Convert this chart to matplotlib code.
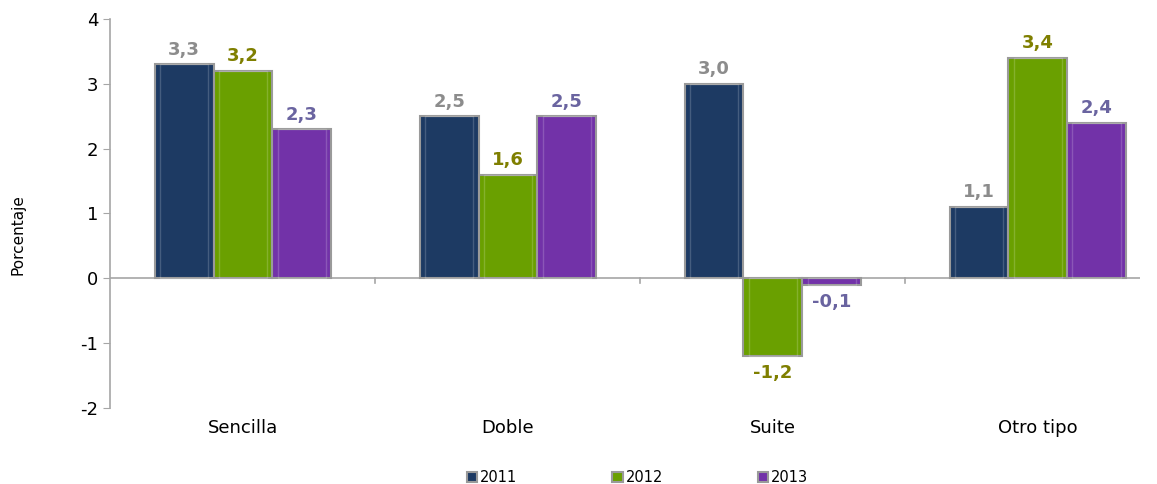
import matplotlib
matplotlib.use("Agg")
import matplotlib.pyplot as plt
import numpy as np

categories = ["Sencilla", "Doble", "Suite", "Otro tipo"]
years = ["2011", "2012", "2013"]
v2011 = [3.3, 2.5, 3.0, 1.1]
v2012 = [3.2, 1.6, -1.2, 3.4]
v2013 = [2.3, 2.5, -0.1, 2.4]
series = [v2011, v2012, v2013]
bar_colors = ["#1d3a63", "#6aa000", "#7232a8"]
label_colors = ["#8c8c8c", "#7f7f00", "#6a64a0"]

plt.rcParams['font.family'] = ['DejaVu Sans']
plt.rcParams['axes.unicode_minus'] = False

fig = plt.figure(figsize=(11.57, 4.84), dpi=100)
ax = fig.add_axes([0.0951, 0.157, 0.890, 0.804])

x = np.arange(len(categories))
w = 0.222
offsets = [-w, 0, w]
for vals, off, c, lc, yr in zip(series, offsets, bar_colors, label_colors, years):
    ax.bar(x + off, vals, width=w, color=c, edgecolor="#9a9a9a",
           linewidth=1.5, label=yr, zorder=3)
    # bevel highlight
    ax.bar(x + off, vals, width=w * 0.82, color="none",
           edgecolor=(1, 1, 1, 0.18), linewidth=1.0, zorder=4)
    for xi, v in zip(x + off, vals):
        txt = f"{v:.1f}".replace(".", ",")
        if v >= 0:
            ax.annotate(txt, (xi, v), xytext=(0, 4), textcoords="offset points",
                        ha="center", va="bottom", fontsize=13, fontweight="bold", color=lc)
        else:
            ax.annotate(txt, (xi, v), xytext=(0, -6), textcoords="offset points",
                        ha="center", va="top", fontsize=13, fontweight="bold", color=lc)

ax.set_ylim(-2, 4)
ax.set_yticks(range(-2, 5))
ax.set_xlim(-0.502, 3.385)
ax.axhline(0, color="#a6a6a6", linewidth=1.2, zorder=2)
ax.set_xticks(x)
ax.set_xticklabels(categories, fontsize=13)
ax.tick_params(axis="x", length=0, pad=8)
ax.tick_params(axis="y", labelsize=13, colors="#000000", length=5, color="#a6a6a6")
for s in ["top", "right", "bottom"]:
    ax.spines[s].set_visible(False)
ax.spines["left"].set_color("#a6a6a6")
ax.spines["left"].set_linewidth(1.2)
for b in x[:-1] + 0.5:
    ax.plot([b, b], [0, -0.08], color="#a6a6a6", linewidth=1.2, zorder=2)
ax.set_ylabel("Porcentaje", fontsize=11)
ax.yaxis.set_label_coords(-0.0825, 0.445)

handles, labels = ax.get_legend_handles_labels()
fig.legend(handles, labels, loc="center", bbox_to_anchor=(0.551, 0.014), ncol=3,
           frameon=False, fontsize=10.5, handlelength=0.7, handleheight=0.7,
           handletextpad=0.2, columnspacing=6.5)

fig.savefig("out.png", dpi=100)
